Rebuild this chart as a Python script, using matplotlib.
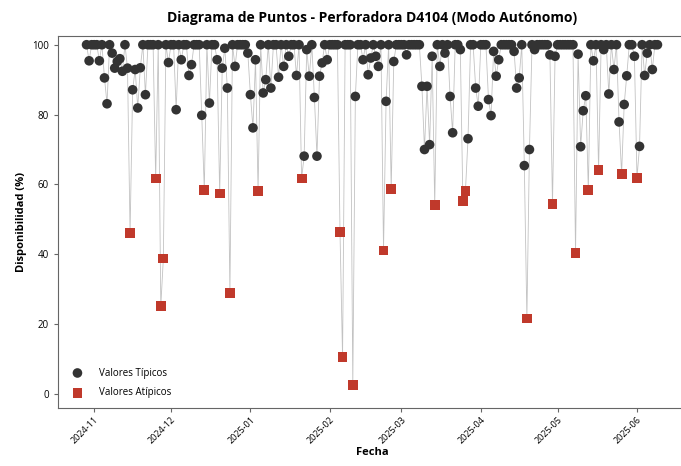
import matplotlib
matplotlib.use("Agg")
import matplotlib.pyplot as plt
import matplotlib.dates as mdates
import numpy as np
import pandas as pd

plt.rcParams['font.family'] = ['Open Sans', 'DejaVu Sans']

start_date = "2024-10-29"

# Daily availability (%) of drill D4104 in autonomous mode
availability = [
    100, 95.4, 100, 100, 100, 95.4, 100, 90.5, 83.1, 100,
    97.6, 93.3, 95.2, 96.0, 92.4, 100, 93.3, 46.0, 87.1, 92.9,
    81.9, 93.4, 100, 85.7, 100, 100, 100, 61.7, 100, 25.1,
    38.8, 100, 94.9, 100, 100, 81.4, 100, 95.7, 100, 100,
    91.2, 94.3, 100, 100, 100, 79.8, 58.4, 100, 83.3, 100,
    100, 95.7, 57.4, 93.3, 99.0, 87.6, 28.9, 100, 93.8, 100,
    100, 100, 100, 97.6, 85.7, 76.2, 95.7, 58.1, 100, 86.2,
    90.0, 100, 87.6, 100, 100, 90.7, 100, 93.8, 100, 96.7,
    100, 100, 91.2, 100, 61.7, 68.1, 98.6, 91.0, 100, 84.9,
    68.1, 91.0, 94.8, 100, 95.7, 100, 100, 100, 100, 46.5,
    10.5, 100, 100, 100, 2.6, 85.2, 100, 100, 95.7, 100,
    91.4, 96.2, 100, 96.7, 93.8, 100, 41.1, 83.8, 100, 58.6,
    95.2, 100, 100, 100, 100, 97.1, 100, 100, 100, 100,
    100, 88.1, 70.0, 88.1, 71.4, 96.7, 54.1, 100, 93.8, 100,
    97.6, 100, 85.2, 74.8, 100, 100, 98.6, 55.2, 58.1, 73.1,
    100, 100, 87.6, 82.4, 100, 100, 100, 84.3, 79.7, 98.1,
    91.0, 95.7, 100, 100, 100, 100, 100, 98.1, 87.6, 90.5,
    100, 65.4, 21.6, 70.0, 100, 98.6, 100, 100, 100, 100,
    100, 97.1, 54.3, 96.7, 100, 100, 100, 100, 100, 100,
    100, 40.3, 97.3, 70.8, 81.1, 85.4, 58.4, 100, 95.4, 100,
    64.1, 100, 98.6, 100, 85.9, 100, 92.9, 100, 77.9, 63.1,
    82.9, 91.1, 100, 100, 96.7, 61.9, 70.9, 100, 91.2, 97.6,
    100, 92.9, 100, 100,
]

outlier_threshold = 65.0

dates = pd.date_range(start_date, periods=len(availability), freq="D")
values = np.array(availability)
is_outlier = values < outlier_threshold

fig = plt.figure(figsize=(6.81, 4.66), dpi=100)
ax = fig.add_axes([58 / 681, 1 - 408 / 466, 628 / 681, 372 / 466])

ax.plot(dates, values, color="#9a9a9a", lw=0.6, alpha=0.6, zorder=1)
ax.scatter(dates[~is_outlier], values[~is_outlier], s=48, marker="o",
           color="#333333", edgecolors="none", zorder=2, label="Valores Típicos")
ax.scatter(dates[is_outlier], values[is_outlier], s=50, marker="s",
           color="#c0392b", edgecolors="none", zorder=3, label="Valores Atípicos")

ax.set_ylim(-4.0, 102.5)
ax.set_yticks([0, 20, 40, 60, 80, 100])
ax.xaxis.set_major_locator(mdates.MonthLocator())
ax.xaxis.set_major_formatter(mdates.DateFormatter("%Y-%m"))
ax.tick_params(axis="x", labelsize=6.5, rotation=45, length=3, pad=2,
               color="#666666")
ax.tick_params(axis="y", labelsize=7, length=3, color="#666666")
for lab in ax.get_xticklabels():
    lab.set_ha("right")
    lab.set_rotation_mode("anchor")

for sp in ax.spines.values():
    sp.set_color("#666666")
    sp.set_linewidth(0.8)

ax.set_title("Diagrama de Puntos - Perforadora D4104 (Modo Autónomo)",
             fontsize=10, fontweight="bold", pad=10)
ax.set_xlabel("Fecha", fontsize=8, fontweight="bold", labelpad=1)
ax.set_ylabel("Disponibilidad (%)", fontsize=8, fontweight="bold")

ax.legend(loc="lower left", frameon=False, fontsize=7, handletextpad=1.2,
          borderaxespad=0.6, labelspacing=0.9)

fig.savefig("out.png", dpi=100)
